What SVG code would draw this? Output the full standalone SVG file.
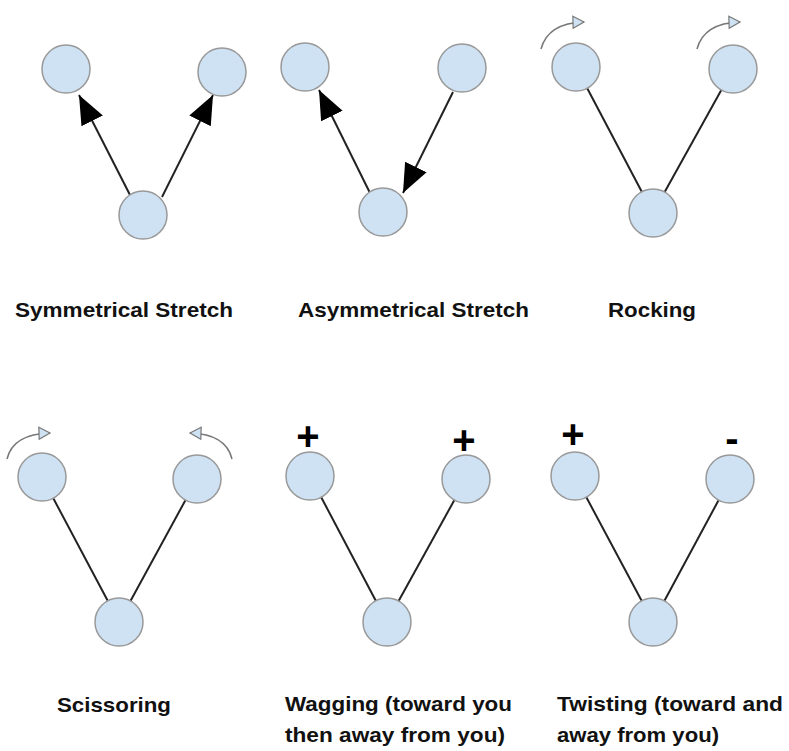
<svg xmlns="http://www.w3.org/2000/svg" width="789" height="751" viewBox="0 0 789 751">
<style>
.atom{fill:#cfe2f3;stroke:#999;stroke-width:1.5}
.bond{stroke:#222;stroke-width:2;fill:none}
.rot{stroke:#777;stroke-width:1.5;fill:none}
.lbl{font-family:"Liberation Sans",Arial,sans-serif;font-weight:bold;font-size:21px;fill:#111}
.sign{font-family:"Liberation Sans",Arial,sans-serif;font-weight:bold;font-size:40px;fill:#000;text-anchor:middle}
</style>
<defs>
<marker id="ah" markerUnits="userSpaceOnUse" markerWidth="32" markerHeight="26" refX="29" refY="12" orient="auto">
<path d="M0,0 L29,12 L0,24 Z" fill="#000"/>
</marker>
<marker id="oh" markerUnits="userSpaceOnUse" markerWidth="16" markerHeight="16" refX="12" refY="7" orient="auto">
<path d="M1,1 L12,7 L1,13 Z" fill="#cfe2f3" stroke="#777" stroke-width="1.2"/>
</marker>
</defs>
<g id="connectors">
<path class="bond" d="M130,195 L79,95" marker-end="url(#ah)"/>
<path class="bond" d="M162,197 L213,95" marker-end="url(#ah)"/>
<path class="bond" d="M370,193 L319,90" marker-end="url(#ah)"/>
<path class="bond" d="M453,92 L403,193" marker-end="url(#ah)"/>
<line class="bond" x1="576" y1="67" x2="653" y2="213"/>
<line class="bond" x1="733" y1="69" x2="653" y2="213"/>
<line class="bond" x1="42" y1="477" x2="119" y2="622"/>
<line class="bond" x1="197" y1="479" x2="119" y2="622"/>
<line class="bond" x1="310" y1="476" x2="387" y2="622"/>
<line class="bond" x1="466" y1="479" x2="387" y2="622"/>
<line class="bond" x1="575" y1="476" x2="653" y2="622"/>
<line class="bond" x1="730" y1="479" x2="653" y2="622"/>
<path class="rot" d="M541,49 Q548,23 584,22" marker-end="url(#oh)"/>
<path class="rot" d="M697,49 Q704,23 740,22" marker-end="url(#oh)"/>
<path class="rot" d="M7,459 Q13,434 50,433" marker-end="url(#oh)"/>
<path class="rot" d="M232,459 Q226,434 190,433" marker-end="url(#oh)"/>
</g>
<g id="sym-stretch">
<circle class="atom" cx="66" cy="69" r="24"/>
<circle class="atom" cx="222" cy="72" r="24"/>
<circle class="atom" cx="143" cy="215" r="24"/>
<text class="lbl" x="15" y="317" textLength="218" lengthAdjust="spacingAndGlyphs">Symmetrical Stretch</text>
</g>
<g id="asym-stretch">
<circle class="atom" cx="305" cy="67" r="24"/>
<circle class="atom" cx="462" cy="68" r="24"/>
<circle class="atom" cx="383" cy="212" r="24"/>
<text class="lbl" x="298" y="317" textLength="231" lengthAdjust="spacingAndGlyphs">Asymmetrical Stretch</text>
</g>
<g id="rocking">
<circle class="atom" cx="576" cy="67" r="24"/>
<circle class="atom" cx="733" cy="69" r="24"/>
<circle class="atom" cx="653" cy="213" r="24"/>
<text class="lbl" x="608" y="317" textLength="88" lengthAdjust="spacingAndGlyphs">Rocking</text>
</g>
<g id="scissoring">
<circle class="atom" cx="42" cy="477" r="24"/>
<circle class="atom" cx="197" cy="479" r="24"/>
<circle class="atom" cx="119" cy="622" r="24"/>
<text class="lbl" x="57" y="712" textLength="114" lengthAdjust="spacingAndGlyphs">Scissoring</text>
</g>
<g id="wagging">
<circle class="atom" cx="310" cy="476" r="24"/>
<circle class="atom" cx="466" cy="479" r="24"/>
<circle class="atom" cx="387" cy="622" r="24"/>
<text class="sign" x="308" y="450">+</text>
<text class="sign" x="464" y="454">+</text>
<text class="lbl" x="285" y="711" textLength="227" lengthAdjust="spacingAndGlyphs">Wagging (toward you</text>
<text class="lbl" x="285" y="742" textLength="220" lengthAdjust="spacingAndGlyphs">then away from you)</text>
</g>
<g id="twisting">
<circle class="atom" cx="575" cy="476" r="24"/>
<circle class="atom" cx="730" cy="479" r="24"/>
<circle class="atom" cx="653" cy="622" r="24"/>
<text class="sign" x="573" y="448">+</text>
<text class="sign" x="732" y="452">-</text>
<text class="lbl" x="557" y="711" textLength="226" lengthAdjust="spacingAndGlyphs">Twisting (toward and</text>
<text class="lbl" x="557" y="742" textLength="162" lengthAdjust="spacingAndGlyphs">away from you)</text>
</g>
</svg>
